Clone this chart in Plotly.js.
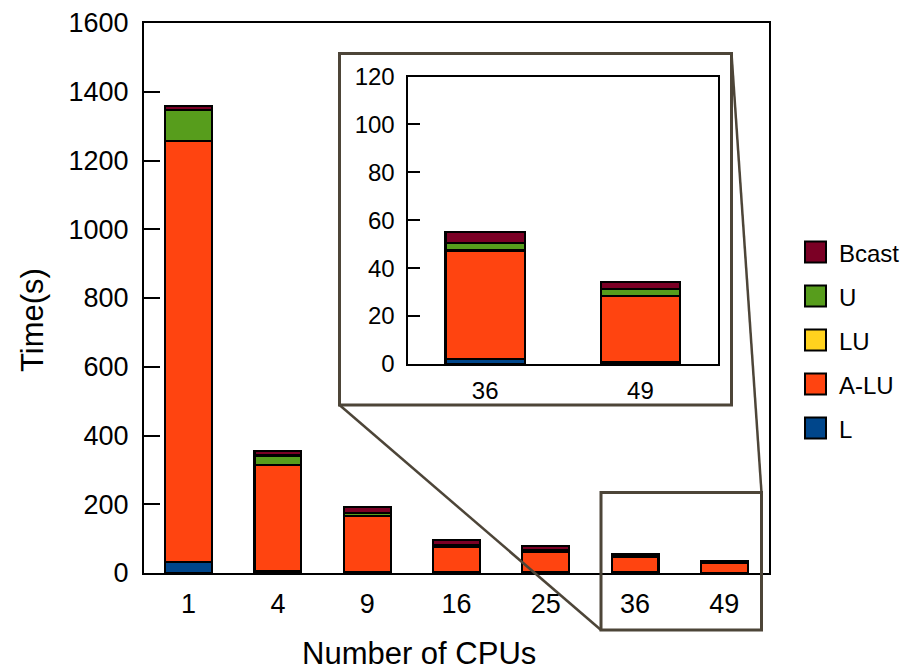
<!DOCTYPE html>
<html>
<head>
<meta charset="utf-8">
<script src="https://cdn.plot.ly/plotly-3.0.1.min.js"></script>
<style>html,body{margin:0;padding:0;background:#fff;}#chart{width:921px;height:671px;}</style>
</head>
<body>
<div id="chart"></div>
<script>
// ---- data ----
const cpus   = ['1', '4', '9', '16', '25', '36', '49'];
const L      = [32, 5, 2, 2, 2, 2, 0.8];
const ALU    = [1224, 309, 163, 75, 60, 45.2, 27.5];
const LU     = [1, 1, 1, 1, 1, 0.3, 0.2];
const U      = [90, 27, 9, 4, 4, 3, 2.8];
const Bcast  = [12, 14, 16, 13, 11.5, 4.6, 3];
const seriesNames = ['L', 'A-LU', 'LU', 'U', 'Bcast'];
const insetCats = ['36', '49'];
const yTicksMain = [0, 200, 400, 600, 800, 1000, 1200, 1400, 1600];
const yTicksInset = [0, 20, 40, 60, 80, 100, 120];
const xTitle = 'Number of CPUs';
const yTitle = 'Time(s)';

// ---- styles ----
const colors = {'L': '#00468b', 'A-LU': '#ff4410', 'LU': '#ffd21e', 'U': '#579d1c', 'Bcast': '#7b0025'};
const values = {'L': L, 'A-LU': ALU, 'LU': LU, 'U': U, 'Bcast': Bcast};
const FONT = 'Liberation Sans, Arial, sans-serif';
const W = 921, H = 671;
const M = {l: 144, r: 152, t: 23, b: 98};
const PW = W - M.l - M.r, PH = H - M.t - M.b;
const px = x => (x - M.l) / PW;
const py = y => (H - M.b - y) / PH;

const traces = [];
seriesNames.forEach(name => {
  traces.push({
    type: 'bar', name: name, x: cpus, y: values[name],
    marker: {color: colors[name], line: {color: '#000', width: 2.2}},
    width: 0.525, showlegend: false, xaxis: 'x', yaxis: 'y', hoverinfo: 'skip'
  });
});
seriesNames.forEach(name => {
  const idx = insetCats.map(c => cpus.indexOf(c));
  traces.push({
    type: 'bar', name: name, x: insetCats, y: idx.map(i => values[name][i]),
    marker: {color: colors[name], line: {color: '#000', width: 2.2}},
    width: 0.51, showlegend: false, xaxis: 'x2', yaxis: 'y2', hoverinfo: 'skip'
  });
});

const brown = '#4d4538';
const shapes = [
  {type: 'rect', xref: 'paper', yref: 'paper', x0: px(339.5), x1: px(731.5), y0: py(405), y1: py(53.5),
   line: {color: brown, width: 3}, fillcolor: '#fff', layer: 'below'},
  {type: 'rect', xref: 'paper', yref: 'paper', x0: px(601), x1: px(761.5), y0: py(630), y1: py(492.5),
   line: {color: brown, width: 3}, layer: 'above'},
  {type: 'line', xref: 'paper', yref: 'paper', x0: px(339.5), y0: py(405), x1: px(601), y1: py(630),
   line: {color: brown, width: 2.5}, layer: 'above'},
  {type: 'line', xref: 'paper', yref: 'paper', x0: px(731.5), y0: py(53.5), x1: px(761.5), y1: py(492.5),
   line: {color: brown, width: 2.5}, layer: 'above'}
];
const annotations = [
  {xref: 'paper', yref: 'paper', x: px(419), y: py(653), xanchor: 'center', yanchor: 'middle',
   text: xTitle, showarrow: false, font: {family: FONT, size: 31, color: '#000'}},
  {xref: 'paper', yref: 'paper', x: px(32), y: py(320), xanchor: 'center', yanchor: 'middle', textangle: -90,
   text: yTitle, showarrow: false, font: {family: FONT, size: 31, color: '#000'}}
];
const legendOrder = seriesNames.slice().reverse();
legendOrder.forEach((name, i) => {
  const cy = 252 + i * 44;
  shapes.push({type: 'rect', xref: 'paper', yref: 'paper', x0: px(805), x1: px(826), y0: py(cy + 10.5), y1: py(cy - 10.5),
    line: {color: '#000', width: 2}, fillcolor: colors[name], layer: 'above'});
  annotations.push({xref: 'paper', yref: 'paper', x: px(837), y: py(cy + 1), xanchor: 'left', yanchor: 'middle',
    text: name, showarrow: false, font: {family: FONT, size: 24, color: '#000'}});
});

const layout = {
  width: W, height: H, margin: M,
  paper_bgcolor: '#fff', plot_bgcolor: 'rgba(0,0,0,0)',
  barmode: 'stack', bargap: 0, showlegend: false,
  font: {family: FONT, color: '#000'},
  xaxis: {type: 'category', range: [-0.5, 6.5], showline: true, mirror: true, linecolor: '#000', linewidth: 2,
    ticks: '', showgrid: false, zeroline: false, tickfont: {size: 27}, ticklabelstandoff: 6},
  yaxis: {range: [0, 1600], tickvals: yTicksMain, showline: true, mirror: true, linecolor: '#000', linewidth: 2,
    ticks: 'inside', ticklen: 16, tickwidth: 2, tickcolor: '#000', showgrid: false, zeroline: false,
    tickfont: {size: 27}, ticklabelstandoff: 8},
  xaxis2: {type: 'category', domain: [px(407.5), px(718)], anchor: 'y2', range: [-0.5, 1.5], showline: true, mirror: true,
    linecolor: '#000', linewidth: 2, ticks: '', showgrid: false, zeroline: false, tickfont: {size: 24}, ticklabelstandoff: 4},
  yaxis2: {domain: [py(364), py(76.5)], anchor: 'x2', range: [0, 120], tickvals: yTicksInset, showline: true, mirror: true,
    linecolor: '#000', linewidth: 2, ticks: 'inside', ticklen: 12, tickwidth: 2, tickcolor: '#000', showgrid: false,
    zeroline: false, tickfont: {size: 24}, ticklabelstandoff: 6},
  shapes: shapes, annotations: annotations
};

Plotly.newPlot('chart', traces, layout, {staticPlot: true, displayModeBar: false});
</script>
</body>
</html>
